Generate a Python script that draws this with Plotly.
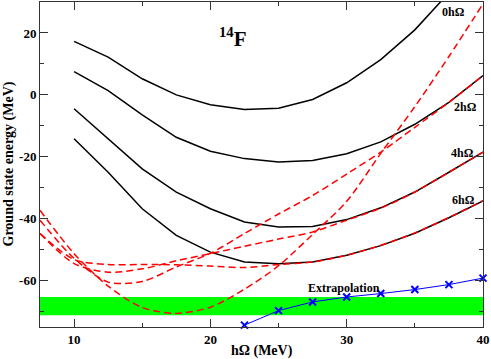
import plotly.graph_objects as go

# NCSM ground state energies of 14F for each model space (black lines)
h_omega = [10, 12.5, 15, 17.5, 20, 22.5, 25, 27.5, 30, 32.5, 35, 37.5, 40]
e_0hw = [17.3, 12.2, 5.2, 0.0, -3.2, -4.7, -4.3, -1.5, 3.9, 11.4, 21.0, 33.0, 47.0]
e_2hw = [7.5, 1.4, -6.5, -13.7, -18.2, -20.6, -21.7, -21.2, -19.0, -15.2, -9.5, -2.4, 6.2]
e_4hw = [-4.5, -14.2, -23.9, -31.4, -36.8, -41.1, -42.7, -42.5, -40.3, -36.5, -31.4, -25.0, -18.5]
e_6hw = [-14.2, -25.0, -36.8, -45.4, -50.8, -54.0, -54.6, -54.0, -51.8, -48.7, -44.7, -39.7, -34.3]

# fitted curves (red dashed)
fit_h_omega = [7.5, 10, 12.5, 15, 17.5, 20, 22.5, 25, 27.5, 30, 32.5, 35, 37.5, 40]
fit_0hw = [-37.3, -51.3, -61.8, -68.7, -70.6, -68.6, -62.8, -55.2, -45.1, -34.4, -18.9, -3.8, 12.4, 29.4]
fit_2hw = [-40.5, -52.8, -60.5, -60.3, -55.6, -51.2, -44.8, -38.5, -32.5, -25.6, -18.5, -10.5, -2.4, 6.2]
fit_4hw = [-44.8, -54.5, -57.3, -56.2, -53.6, -51.3, -48.9, -46.6, -44.3, -40.5, -36.6, -31.4, -25.0, -18.5]
fit_6hw = [-44.8, -53.2, -54.8, -54.8, -54.9, -55.3, -55.8, -54.8, -54.0, -51.8, -48.6, -44.6, -39.6, -34.2]

# extrapolated values (blue crosses)
extrap_h_omega = [22.5, 25, 27.5, 30, 32.5, 35, 37.5, 40]
extrap_energy = [-74.4, -69.7, -66.9, -65.3, -64.2, -62.9, -61.3, -59.2]

# extrapolation uncertainty band
band_low = -71.2
band_high = -65.3

curve_labels = ["0hΩ", "2hΩ", "4hΩ", "6hΩ"]
x_tickvals = [10, 20, 30, 40]
x_ticktext = ["10", "20", "30", "40"]
y_tickvals = [-60, -40, -20, 0, 20]
y_ticktext = ["-60", "-40", "-20", "0", "20"]

FONT = "Liberation Serif"


def main() -> None:
    fig = go.Figure()

    fig.add_shape(type="rect", xref="x", yref="y", x0=7.5, x1=40, y0=band_low, y1=band_high,
                  fillcolor="#00ff00", line=dict(width=0), layer="below")

    for e in [e_0hw, e_2hw, e_4hw, e_6hw]:
        fig.add_scatter(x=h_omega, y=e, mode="lines", line=dict(color="black", width=1.5),
                        showlegend=False)

    for f in [fit_0hw, fit_2hw, fit_4hw, fit_6hw]:
        fig.add_scatter(x=fit_h_omega, y=f, mode="lines",
                        line=dict(color="#ff0000", width=1.5, dash="7px,4px", shape="spline", smoothing=0.8),
                        showlegend=False)

    fig.add_scatter(x=extrap_h_omega, y=extrap_energy, mode="lines+markers",
                    line=dict(color="#0000ff", width=1),
                    marker=dict(symbol="x-thin", size=7, line=dict(color="#0000ff", width=2)),
                    showlegend=False, cliponaxis=False)

    label_font = dict(family=FONT, size=12, color="black", weight="bold")
    label_pos = [(37.83, 26.9), (38.74, -3.8), (38.53, -18.8), (38.56, -33.9)]
    for text, (lx, ly) in zip(curve_labels, label_pos):
        fig.add_annotation(x=lx, y=ly, text=text, showarrow=False, font=label_font)
    fig.add_annotation(x=29.77, y=-62.5, text="Extrapolation", showarrow=False, font=label_font)
    fig.add_annotation(x=21.64, y=18.5, text="<sup>14</sup>F", showarrow=False,
                       font=dict(family=FONT, size=21, color="black", weight="bold"))

    # axis titles
    title_font = dict(family=FONT, size=14, color="black", weight="bold")
    fig.add_annotation(xref="paper", yref="paper", x=0.5, y=0, yshift=-24, xanchor="center",
                       yanchor="middle", text="hΩ (MeV)", showarrow=False, font=title_font)
    fig.add_annotation(xref="paper", yref="paper", x=0, y=0.5, xshift=-32, xanchor="center",
                       yanchor="middle", textangle=-90, text="Ground state energy (MeV)",
                       showarrow=False, font=title_font)

    axis_common = dict(
        showgrid=False, zeroline=False, showline=True, linecolor="#333", linewidth=1,
        mirror="allticks", ticks="inside", ticklen=8, tickcolor="#333", tickwidth=1,
        tickfont=dict(family=FONT, size=13, color="black", weight="bold"), automargin=False,
    )
    fig.update_xaxes(range=[7.5, 40], tickvals=x_tickvals, ticktext=x_ticktext,
                     minor=dict(tickvals=[15, 25, 35], ticks="inside", ticklen=4, tickcolor="#333"),
                     **axis_common)
    fig.update_yaxes(range=[-75, 30], tickvals=y_tickvals, ticktext=y_ticktext,
                     minor=dict(tickvals=[-70, -50, -30, -10, 10], ticks="inside", ticklen=4,
                                tickcolor="#333"),
                     **axis_common)

    fig.update_layout(width=491, height=359,
                      margin=dict(l=40, r=8, t=2, b=32, autoexpand=False),
                      plot_bgcolor="white", paper_bgcolor="white", showlegend=False)
    # the page body has a default 8px margin; drop it so the figure sits at the window corner
    fig.write_html("out.html", config={"displayModeBar": False},
                   post_script="document.body.style.margin = '0';")


if __name__ == '__main__':
    main()
